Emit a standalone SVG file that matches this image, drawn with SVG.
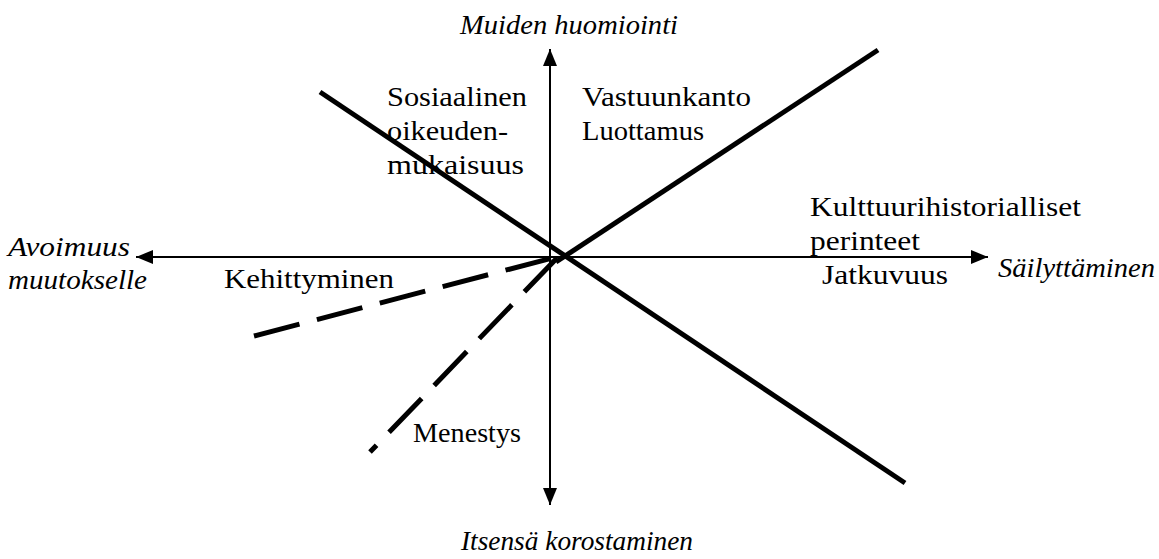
<svg xmlns="http://www.w3.org/2000/svg" width="1159" height="559" viewBox="0 0 1159 559">
<defs>
<style>
.ax{stroke:#000;stroke-width:2;fill:none}
.th{stroke:#000;stroke-width:5;fill:none}
.da{stroke:#000;stroke-width:5;fill:none;stroke-dasharray:47 18}
</style>
<marker id="ah" markerUnits="userSpaceOnUse" markerWidth="18" markerHeight="14" refX="17" refY="7" orient="auto">
<path d="M0,0 L17,7 L0,14 Z" fill="#000"/>
</marker>
</defs>
<rect width="1159" height="559" fill="#fff"/>
<g id="connectors">
<line class="ax" x1="550" y1="257" x2="550" y2="49" marker-end="url(#ah)"/>
<line class="ax" x1="550" y1="257" x2="550" y2="505" marker-end="url(#ah)"/>
<line class="ax" x1="550" y1="257" x2="136" y2="257" marker-end="url(#ah)"/>
<line class="ax" x1="550" y1="257" x2="988" y2="257" marker-end="url(#ah)"/>
<line class="th" x1="320" y1="92" x2="905" y2="483"/>
<line class="th" x1="878" y1="50" x2="556" y2="262"/>
<line class="da" x1="254" y1="336" x2="556" y2="257"/>
<line class="da" x1="557" y1="258" x2="370" y2="452"/>
</g>
<g id="top"><text style="font-family:'Liberation Serif',serif;font-size:28px;font-style:italic" x="460" y="34" textLength="218" lengthAdjust="spacingAndGlyphs">Muiden huomiointi</text></g>
<g id="bottom"><text style="font-family:'Liberation Serif',serif;font-size:28px;font-style:italic" x="461" y="550" textLength="232" lengthAdjust="spacingAndGlyphs">Itsensä korostaminen</text></g>
<g id="left"><text style="font-family:'Liberation Serif',serif;font-size:28px;font-style:italic" x="8" y="256" textLength="122" lengthAdjust="spacingAndGlyphs">Avoimuus</text><text style="font-family:'Liberation Serif',serif;font-size:28px;font-style:italic" x="8" y="289" textLength="139" lengthAdjust="spacingAndGlyphs">muutokselle</text></g>
<g id="right"><text style="font-family:'Liberation Serif',serif;font-size:28px;font-style:italic" x="998" y="277" textLength="157" lengthAdjust="spacingAndGlyphs">Säilyttäminen</text></g>
<g id="sosiaalinen"><text style="font-family:'Liberation Serif',serif;font-size:28px" x="387" y="106" textLength="140" lengthAdjust="spacingAndGlyphs">Sosiaalinen</text><text style="font-family:'Liberation Serif',serif;font-size:28px" x="387" y="140" textLength="121" lengthAdjust="spacingAndGlyphs">oikeuden-</text><text style="font-family:'Liberation Serif',serif;font-size:28px" x="387" y="174" textLength="137" lengthAdjust="spacingAndGlyphs">mukaisuus</text></g>
<g id="vastuunkanto"><text style="font-family:'Liberation Serif',serif;font-size:28px" x="582" y="106" textLength="169" lengthAdjust="spacingAndGlyphs">Vastuunkanto</text><text style="font-family:'Liberation Serif',serif;font-size:28px" x="582" y="140" textLength="122" lengthAdjust="spacingAndGlyphs">Luottamus</text></g>
<g id="kulttuuri"><text style="font-family:'Liberation Serif',serif;font-size:28px" x="810" y="216" textLength="271" lengthAdjust="spacingAndGlyphs">Kulttuurihistorialliset</text><text style="font-family:'Liberation Serif',serif;font-size:28px" x="810" y="250" textLength="110" lengthAdjust="spacingAndGlyphs">perinteet</text><text style="font-family:'Liberation Serif',serif;font-size:28px" x="822" y="284" textLength="126" lengthAdjust="spacingAndGlyphs">Jatkuvuus</text></g>
<g id="kehittyminen"><text style="font-family:'Liberation Serif',serif;font-size:28px" x="224" y="288" textLength="170" lengthAdjust="spacingAndGlyphs">Kehittyminen</text></g>
<g id="menestys"><text style="font-family:'Liberation Serif',serif;font-size:28px" x="413" y="442" textLength="108" lengthAdjust="spacingAndGlyphs">Menestys</text></g>
</svg>
